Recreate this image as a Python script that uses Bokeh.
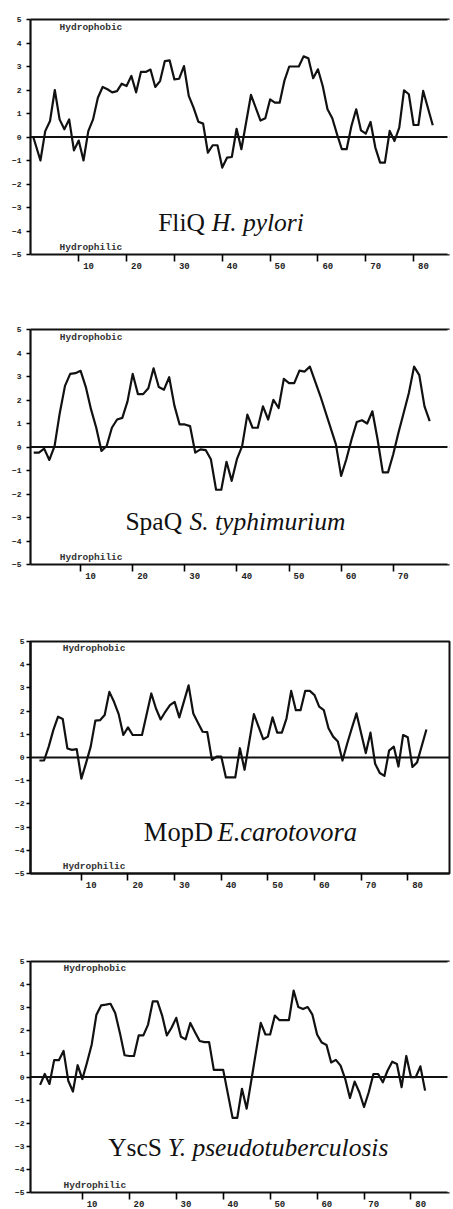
from bokeh.plotting import figure
from bokeh.models import Range1d, FixedTicker, LinearAxis, Span, Label, CustomLabelingPolicy
from bokeh.layouts import column
from bokeh.embed import file_html
from bokeh.resources import INLINE

# ---------------- data ----------------
y_ticks = [-5, -4, -3, -2, -1, 0, 1, 2, 3, 4, 5]

fliq_pos = [0.5, 2, 3, 4, 5, 6, 7, 8, 9, 10, 11, 12, 13, 14, 15, 16, 17, 18, 19, 20,
            21, 22, 23, 24, 25, 26, 27, 28, 29, 30, 31, 32, 33, 34, 35, 36, 37, 38, 39, 40,
            41, 42, 43, 44, 46, 48, 49, 50, 51, 52, 53, 54, 55, 56, 57, 58, 59, 60, 61, 62,
            63, 64, 65, 66, 67, 68, 69, 70, 71, 72, 73, 74, 75, 76, 77, 78, 79, 80, 81, 82, 84]
fliq_val = [0.0, -1.0, 0.25, 0.68, 2.0, 0.75, 0.33, 0.75, -0.57, -0.15, -1.0, 0.25, 0.75, 1.67, 2.13, 2.03, 1.9, 1.95, 2.27, 2.17,
            2.6, 1.9, 2.77, 2.77, 2.87, 2.13, 2.38, 3.23, 3.26, 2.45, 2.48, 3.02, 1.75, 1.25, 0.65, 0.57, -0.67, -0.35, -0.35, -1.3,
            -0.88, -0.85, 0.35, -0.52, 1.79, 0.7, 0.8, 1.6, 1.46, 1.46, 2.4, 3.0, 3.0, 3.0, 3.43, 3.35, 2.5, 2.88, 2.17, 1.18,
            0.8, 0.11, -0.52, -0.52, 0.47, 1.18, 0.28, 0.14, 0.64, -0.45, -1.09, -1.09, 0.26, -0.17, 0.4, 1.99, 1.82, 0.51, 0.51, 1.96, 0.5]

spaq_pos = list(range(1, 55)) + [56] + list(range(59, 78))
spaq_val = [-0.24, -0.24, -0.07, -0.55, 0.04, 1.45, 2.6, 3.11, 3.14, 3.24,
            2.55, 1.6, 0.82, -0.17, 0.04, 0.82, 1.17, 1.24, 1.94, 3.11,
            2.25, 2.25, 2.5, 3.35, 2.55, 2.44, 2.97, 1.76, 0.96, 0.96,
            0.89, -0.24, -0.1, -0.13, -0.52, -1.82, -1.82, -0.63, -1.44, -0.52,
            0.04, 1.38, 0.82, 0.82, 1.73, 1.17, 2.01, 1.66, 2.9, 2.72,
            2.72, 3.25, 3.21, 3.42,
            2.18,
            0.11, -1.23, -0.52, 0.32, 1.06, 1.14, 1.0, 1.52, 0.32, -1.08,
            -1.08, -0.31, 0.61, 1.45, 2.3, 3.42, 3.06, 1.73, 1.1]

mopd_pos = list(range(1, 24)) + list(range(25, 32)) + list(range(33, 46)) + list(range(47, 83)) + [84]
mopd_val = [-0.13, -0.13, 0.47, 1.19, 1.76, 1.66, 0.39, 0.33, 0.36, -0.91,
            -0.24, 0.47, 1.59, 1.61, 1.83, 2.83, 2.4, 1.87, 0.97, 1.3,
            0.97, 0.97, 0.97,
            2.76, 2.11, 1.64, 1.97, 2.26, 2.4, 1.73,
            3.11, 1.9, 1.5, 1.11, 1.09, -0.1, 0.04, 0.04, -0.86, -0.86,
            -0.86, 0.4, -0.53,
            1.87, 1.33, 0.79, 0.9, 1.73, 1.07, 1.07, 1.69, 2.87, 2.04,
            2.04, 2.87, 2.87, 2.69, 2.19, 2.04, 1.26, 0.9, 0.69, -0.13,
            0.59, 1.26, 1.9, 1.04, 0.19, 1.07, -0.27, -0.67, -0.79, 0.3,
            0.47, -0.39, 0.97, 0.87, -0.41, -0.21,
            1.21]

yscs_pos = list(range(1, 41)) + list(range(42, 46)) + list(range(48, 84))
yscs_val = [-0.34, 0.13, -0.3, 0.73, 0.73, 1.13, -0.16, -0.63, 0.51, -0.09,
            0.63, 1.41, 2.7, 3.1, 3.13, 3.17, 2.77, 1.91, 0.94, 0.91,
            0.91, 1.8, 1.8, 2.27, 3.27, 3.27, 2.66, 1.8, 2.13, 2.56,
            1.74, 1.63, 2.34, 1.94, 1.56, 1.51, 1.51, 0.31, 0.31, 0.31,
            -1.77, -1.77, -0.51, -1.37,
            2.34, 1.84, 1.84, 2.66, 2.46, 2.46, 2.46, 3.74, 3.03, 2.94,
            3.03, 2.7, 1.84, 1.49, 1.39, 0.63, 0.74, 0.49, -0.09, -0.91,
            -0.2, -0.66, -1.3, -0.66, 0.13, 0.13, -0.23, 0.27, 0.66, 0.56,
            -0.44, 0.91, -0.01, -0.01, 0.46, -0.59]

protein_names = ["FliQ", "SpaQ", "MopD", "YscS"]
organism_names = ["H. pylori", "S. typhimurium", "E.carotovora", "Y. pseudotuberculosis"]
x_tick_sets = [[10, 20, 30, 40, 50, 60, 70, 80],
               [10, 20, 30, 40, 50, 60, 70],
               [10, 20, 30, 40, 50, 60, 70, 80],
               [10, 20, 30, 40, 50, 60, 70, 80]]
series = [(fliq_pos, fliq_val), (spaq_pos, spaq_val), (mopd_pos, mopd_val), (yscs_pos, yscs_val)]

# ---------------- layout / style ----------------
W = 453
panels = [
    dict(h=310, bt=19, bb=56, bl=30, br=0, x0=-0.08, x1=87.5, ppr=4.83, ys=5,
         nx=26.6, ox=37.8, ty=-3.65, fs="25.5px", box=False),
    dict(h=312, bt=19, bb=58, bl=30, br=0, x0=0.38, x1=80.8, ppr=5.26, ys=5,
         nx=18.6, ox=30.9, ty=-3.15, fs="25.5px", box=False),
    dict(h=320, bt=19, bb=69, bl=23, br=4, x0=-0.91, x1=88.95, ppr=4.74, ys=2,
         nx=23.4, ox=39.2, ty=-3.23, fs="26.5px", box=True),
    dict(h=267, bt=19, bb=15, bl=22, br=0, x0=-1.04, x1=88.2, ppr=4.83, ys=2,
         nx=15.5, ox=28.2, ty=-3.05, fs="25.5px", box=False),
]
label_shift_px = 10  # tick labels sit to the right of their tick marks

mono = "Liberation Mono"
serif = "Liberation Serif"
ink = "#111111"

figs = []
for i, cfg in enumerate(panels):
    xs, ys = series[i]
    s = label_shift_px / cfg["ppr"]
    p = figure(width=W, height=cfg["h"], output_backend="svg", toolbar_location=None,
               x_range=Range1d(cfg["x0"], cfg["x1"]), y_range=Range1d(-5, 5),
               min_border_top=cfg["bt"], min_border_bottom=cfg["bb"],
               min_border_left=cfg["bl"], min_border_right=cfg["br"],
               background_fill_color="white", border_fill_color="white")
    p.extra_x_ranges = {"lab": Range1d(cfg["x0"] - s, cfg["x1"] - s)}
    p.xgrid.visible = False
    p.ygrid.visible = False

    xa = p.below[0]
    ya = p.left[0]

    if cfg["box"]:
        p.outline_line_color = ink
        p.outline_line_width = 2
    else:
        p.outline_line_color = None
        top = LinearAxis(ticker=FixedTicker(ticks=[]), major_label_text_font_size="1px",
                         major_tick_out=0, major_tick_in=0, minor_tick_out=0, minor_tick_in=0,
                         major_label_standoff=0, axis_line_width=2.2, axis_line_color=ink)
        p.add_layout(top, "above")
        # the open side of the plot: keep its right edge blank
        p.add_layout(Span(location=cfg["x1"], dimension="height", line_color="white",
                          line_width=4, level="overlay"))

    xa.ticker = FixedTicker(ticks=x_tick_sets[i])
    xa.axis_line_width = 2.2
    xa.axis_line_color = ink
    xa.major_tick_out = 7
    xa.major_tick_in = 0
    xa.major_tick_line_width = 1.6
    xa.minor_tick_out = 0
    xa.minor_tick_in = 0
    xa.major_label_standoff = 0
    xa.major_label_text_font_size = "1px"
    xa.major_label_policy = CustomLabelingPolicy(code="return []")

    lab = LinearAxis(x_range_name="lab", ticker=FixedTicker(ticks=x_tick_sets[i]),
                     axis_line_color=None, major_tick_line_color=None, minor_tick_line_color=None,
                     major_tick_out=0, major_tick_in=0, minor_tick_out=0, minor_tick_in=0,
                     major_label_standoff=-3, major_label_text_font=mono,
                     major_label_text_font_style="bold", major_label_text_font_size="9px",
                     major_label_text_color="#222222")
    p.add_layout(lab, "below")

    ya.ticker = FixedTicker(ticks=y_ticks)
    ya.axis_line_width = 2.2
    ya.axis_line_color = ink
    ya.major_tick_out = 4
    ya.major_tick_in = 0
    ya.major_tick_line_width = 1.6
    ya.minor_tick_out = 0
    ya.minor_tick_in = 0
    ya.major_label_standoff = cfg["ys"]
    ya.major_label_text_font = mono
    ya.major_label_text_font_style = "bold"
    ya.major_label_text_font_size = "8px"
    ya.major_label_text_color = "#222222"

    p.add_layout(Span(location=0, dimension="width", line_color=ink, line_width=1.8))
    p.line(xs, ys, line_color=ink, line_width=2.2, line_join="round")

    p.add_layout(Label(x=6.0, y=4.68, text="Hydrophobic", text_font=mono, text_font_style="bold",
                       text_font_size="9.5px", text_color="#333333", text_baseline="middle"))
    p.add_layout(Label(x=6.0, y=-4.7, text="Hydrophilic", text_font=mono, text_font_style="bold",
                       text_font_size="9.5px", text_color="#333333", text_baseline="middle"))
    p.add_layout(Label(x=cfg["nx"], y=cfg["ty"], text=protein_names[i], text_font=serif,
                       text_font_size=cfg["fs"], text_color=ink, text_baseline="alphabetic"))
    p.add_layout(Label(x=cfg["ox"], y=cfg["ty"], text=organism_names[i], text_font=serif,
                       text_font_style="italic", text_font_size=cfg["fs"], text_color=ink,
                       text_baseline="alphabetic"))
    figs.append(p)

layout = column(*figs, spacing=0)
open("out.html", "w").write(file_html(layout, INLINE))
